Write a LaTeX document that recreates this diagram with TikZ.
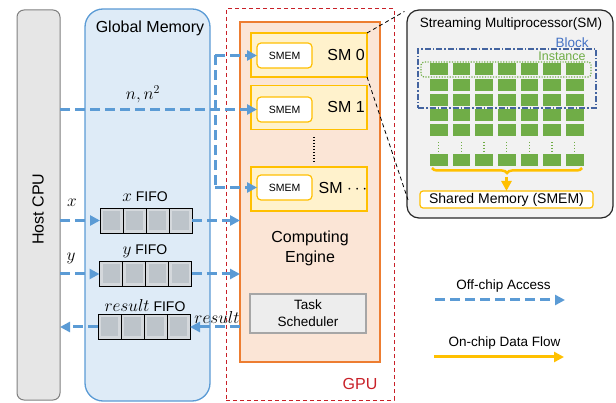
\documentclass[tikz,border=0pt]{standalone}
\usepackage{fontspec}
\setmainfont{Liberation Sans}
\usetikzlibrary{arrows.meta,calc,decorations.pathreplacing}
\definecolor{offblue}{RGB}{91,155,213}
\definecolor{gmfill}{RGB}{222,235,247}
\definecolor{cpufill}{RGB}{230,230,230}
\definecolor{cpuline}{RGB}{128,128,128}
\definecolor{gpured}{RGB}{200,32,40}
\definecolor{ceorange}{RGB}{237,125,49}
\definecolor{cefill}{RGB}{251,229,214}
\definecolor{smfill}{RGB}{255,242,204}
\definecolor{gold}{RGB}{255,192,0}
\definecolor{tsfill}{RGB}{237,237,237}
\definecolor{tsline}{RGB}{166,166,166}
\definecolor{green1}{RGB}{112,173,71}
\definecolor{blockblue}{RGB}{68,100,160}
\definecolor{blocktext}{RGB}{68,114,196}
\definecolor{panelfill}{RGB}{242,242,242}
\definecolor{cellout}{RGB}{212,216,220}
\definecolor{cellin}{RGB}{189,196,202}
\newcommand{\fifocells}[1]{%
  \foreach \i in {0,...,3}{%
    \coordinate (cc) at ($(#1.north west)+(\i*23,0)$);
    \fill[cellout] (cc) rectangle ++(23,25);
    \fill[cellin] ($(cc)+(3,3)$) rectangle ++(17,19);
    \draw[black,line width=0.8pt] (cc) rectangle ++(23,25);
  }}
\newcommand{\fifomath}[1]{{\fontsize{16.5}{18}\selectfont$#1$}}
\begin{document}
\begin{tikzpicture}[x=1pt,y=-1pt,
  every node/.style={inner sep=0pt,outer sep=0pt},
  tipb/.style={-{Triangle[length=10pt,width=10pt]}},
  offline/.style={draw=offblue,line width=3pt,dash pattern=on 10pt off 5pt},
  offarrow/.style={offline,tipb},
  onarrow/.style={draw=gold,line width=3pt,-{Triangle[length=10pt,width=10pt]}},
  cpubox/.style={draw=cpuline,fill=cpufill,line width=1pt,rounded corners=7pt,minimum width=43pt,minimum height=390pt},
  gmbox/.style={draw=offblue,fill=gmfill,line width=1.3pt,rounded corners=18pt,minimum width=125pt,minimum height=392pt},
  gpubox/.style={draw=gpured,line width=1pt,dash pattern=on 4pt off 3pt,minimum width=168pt,minimum height=391pt},
  cebox/.style={draw=ceorange,fill=cefill,line width=2.5pt,minimum width=140pt,minimum height=340pt},
  smbox/.style={draw=gold,fill=smfill,line width=1.2pt,minimum width=116pt,minimum height=44pt},
  smembox/.style={draw=gold,fill=white,line width=1.2pt,rounded corners=4pt,minimum width=55pt,minimum height=25pt,font=\fontsize{10.5}{12}\selectfont},
  tsbox/.style={draw=tsline,fill=tsfill,line width=1.2pt,minimum width=116pt,minimum height=39pt,align=center,font=\fontsize{13.5}{17}\selectfont},
  fifo/.style={minimum width=92pt,minimum height=25pt},
  big/.style={font=\fontsize{16}{20}\selectfont},
  mid/.style={font=\fontsize{14}{17}\selectfont},
  sml/.style={font=\fontsize{13.5}{16}\selectfont},
  mathlbl/.style={font=\fontsize{17}{19}\selectfont},
  gsq/.style={fill=green1},
]
\useasboundingbox (0,0) rectangle (616,403);
% Host CPU
\node[cpubox] (cpu) at (38.5,205) {};
\node[big,rotate=90] (cputxt) at (38,209) {Host CPU};
% Global memory
\node[gmbox] (gm) at (147.5,205) {};
\node[big] (gmt) at (150,28) {Global Memory};
% GPU
\node[gpubox] (gpu) at (310,204.5) {};
\node[big,text=gpured] (gput) at (360,384) {GPU};
\node[cebox] (ce) at (310,192) {};
% SMs
\node[smbox] (sm0) at (309,55) {};
\node[smembox] (smem0) at (284.5,55.5) {SMEM};
\node[big] (sm0t) at (346,55) {SM 0};
\node[smbox] (sm1) at (309,107.5) {};
\node[smembox] (smem1) at (284.5,109.5) {SMEM};
\node[big] (sm1t) at (346,107) {SM 1};
\node[smbox] (sm2) at (309,189) {};
\node[smembox] (smem2) at (284.5,187.5) {SMEM};
\node[big] (sm2t) at (343,188) {SM $\cdots$};
\coordinate (dtop) at (314,137);
\coordinate (dbot) at (314,162);
\draw[line width=1.5pt,dash pattern=on 1.5pt off 1.5pt] (dtop) -- (dbot);
\node[big,align=center] (cet) at (310,248) {Computing\\Engine};
\node[tsbox] (ts) at (308,313.5) {Task\\Scheduler};
% FIFOs
\node[fifo] (xf) at (146,220.5) {};
\fifocells{xf}
\node[fifo] (yf) at (145.5,274) {};
\fifocells{yf}
\node[fifo] (rf) at (144,327) {};
\fifocells{rf}
\node[mid] (xft) at (145,197) {\fifomath{x} FIFO};
\node[mid] (yft) at (145,251) {\fifomath{y} FIFO};
\node[mid] (rft) at (145,306) {\fifomath{result} FIFO};
% off-chip arrows
\coordinate (vtop) at (215,55.5);
\coordinate (vbot) at (215,187.5);
\draw[offline] (vtop) -- (vbot);
\draw[offarrow] (vtop) -- (smem0.west);
\draw[offarrow] (vbot) -- (smem2.west);
\draw[offarrow] (cpu.east |- smem1.west) -- (smem1.west);
\node[mathlbl] (nlbl) at (143,94) {$n, n^2$};
\draw[offarrow] (cpu.east |- xf.west) -- (xf.west);
\draw[offarrow] (xf.east) -- (xf.east -| ce.west);
\node[mathlbl] (xl) at (72,203) {$x$};
\draw[offarrow] (cpu.east |- yf.west) -- (yf.west);
\draw[offarrow] (yf.east) -- (yf.east -| ce.west);
\node[mathlbl] (yl) at (71,258) {$y$};
\draw[offarrow] (ce.west |- rf.east) -- (rf.east);
\draw[offarrow] (rf.west) -- (rf.west -| cpu.east);
\node[mathlbl] (rl) at (217,318) {$result$};
% SM detail panel
\node[draw=black!85,fill=panelfill,line width=1.2pt,rounded corners=12pt,minimum width=206pt,minimum height=208pt] (panel) at (510,114) {};
\node[sml] (pt) at (511,24) {Streaming Multiprocessor(SM)};
\foreach \i in {0,...,6}{
  \foreach \j in {0,...,4}{
    \fill[gsq] ({430+22.67*\i},{63.5+15.25*\j}) rectangle ++(17.5,12);
  }
  \fill[gsq] ({430+22.67*\i},154) rectangle ++(17.5,12);
  \draw[green1,line width=1.3pt,dash pattern=on 1.5pt off 1.5pt] ({438.75+22.67*\i},142) -- ({438.75+22.67*\i},153);
}
\node[draw=blockblue,line width=1.2pt,dash pattern=on 6pt off 2pt on 1.5pt off 2pt,minimum width=178pt,minimum height=59pt] (block) at (507,78.5) {};
\node[sml,text=blocktext] (blockt) at (572,42.5) {Block};
\node[draw=green1,line width=1.2pt,dash pattern=on 1.2pt off 1.5pt,rounded corners=3pt,minimum width=170pt,minimum height=15pt] (inst) at (506,69.5) {};
\node[font=\fontsize{12.5}{15}\selectfont,text=green1] (instt) at (562,56) {Instance};
\node[draw=gold,fill=white,line width=1.2pt,rounded corners=3pt,minimum width=173pt,minimum height=17pt,font=\fontsize{14}{16}\selectfont] (shm) at (506.5,199.5) {Shared Memory (SMEM)};
\coordinate (bl) at (432,168);
\coordinate (br) at (582,168);
\draw[gold,line width=2.5pt,decorate,decoration={brace,amplitude=5pt,mirror}] (bl) -- (br);
\coordinate (btip) at (506.5,177);
\draw[onarrow] (btip) -- (shm.north);
% zoom connectors
\draw[black,line width=0.8pt,dash pattern=on 4pt off 3pt,shorten >=3pt] (sm0.north east) -- (panel.north west);
\coordinate (pb) at ($(panel.south west)+(1,-18)$);
\draw[black,line width=0.8pt,dash pattern=on 4pt off 3pt] (sm0.south east) -- (pb);
% legend
\node[sml] (l1t) at (503.5,286) {Off-chip Access};
\coordinate (l1a) at (435,300);
\coordinate (l1b) at (565,300);
\draw[offarrow] (l1a) -- (l1b);
\node[sml] (l2t) at (504.5,343) {On-chip Data Flow};
\coordinate (l2a) at (434,357);
\coordinate (l2b) at (564,357);
\draw[onarrow] (l2a) -- (l2b);
\end{tikzpicture}
\end{document}
